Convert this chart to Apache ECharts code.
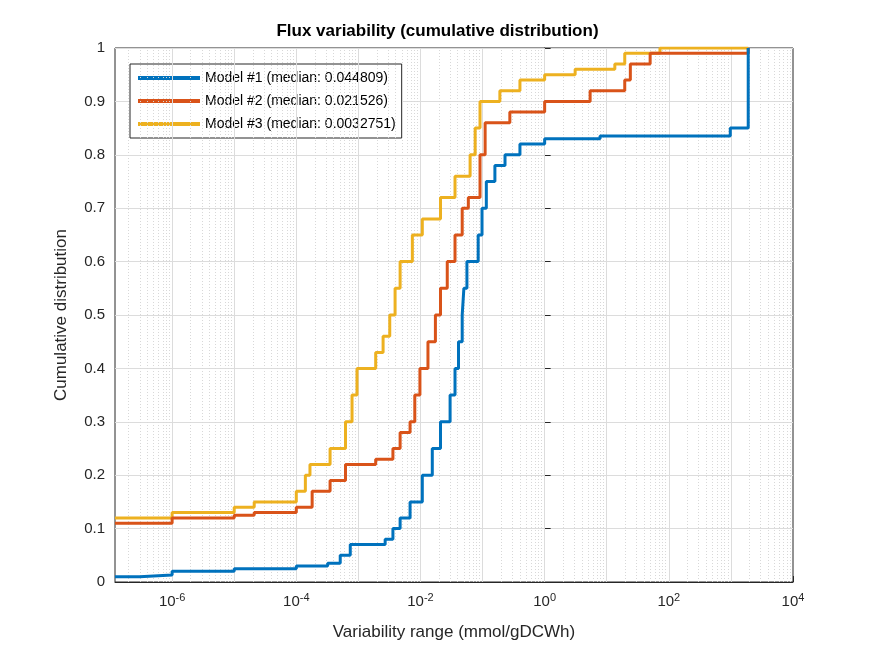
<!DOCTYPE html>
<html style="height: 100%">
<head>
    <meta charset="utf-8">
</head>
<body style="height: 100%; margin: 0; background: #fff">
<div id="container" style="width: 875px; height: 656px"></div>
<script src="https://cdn.jsdelivr.net/npm/echarts@6/dist/echarts.min.js"></script>
<script>
// cumulative distribution points: [variability range, fraction]
var model1 = [[1.2e-7, 0.01], [3.0e-7, 0.013], [1e-6, 0.02], [1e-5, 0.025], [1e-4, 0.03],
    [3.2e-4, 0.035], [5.1e-4, 0.05], [7.4e-4, 0.07], [2.7e-3, 0.08], [3.6e-3, 0.1],
    [4.7e-3, 0.12], [6.8e-3, 0.15], [0.0107, 0.2], [0.0155, 0.25], [0.021, 0.3],
    [0.030, 0.35], [0.036, 0.4], [0.041, 0.45], [0.047, 0.5], [0.050, 0.55],
    [0.056, 0.6], [0.085, 0.65], [0.098, 0.7], [0.115, 0.75], [0.158, 0.78],
    [0.23, 0.8], [0.40, 0.82], [1, 0.83], [7.8, 0.835], [457, 0.835], [977, 0.85],
    [1900, 0.85], [1900, 1.0]];
var model2 = [[1.2e-7, 0.11], [1e-6, 0.12], [1e-5, 0.125], [2.1e-5, 0.13], [1e-4, 0.14],
    [1.8e-4, 0.17], [3.5e-4, 0.19], [6.2e-4, 0.22], [1.9e-3, 0.23], [3.6e-3, 0.25],
    [4.7e-3, 0.28], [6.8e-3, 0.3], [8.1e-3, 0.35], [9.8e-3, 0.4], [0.0132, 0.45],
    [0.0174, 0.5], [0.021, 0.55], [0.027, 0.6], [0.036, 0.65], [0.047, 0.7],
    [0.059, 0.72], [0.091, 0.8], [0.11, 0.86], [0.275, 0.88], [1, 0.9], [5.4, 0.92],
    [19.5, 0.94], [24, 0.97], [50, 0.99], [1900, 1.0]];
var model3 = [[1.2e-7, 0.12], [1e-6, 0.13], [1e-5, 0.14], [2.1e-5, 0.15], [1e-4, 0.17],
    [1.4e-4, 0.2], [1.66e-4, 0.22], [3.5e-4, 0.25], [6.2e-4, 0.3], [7.9e-4, 0.35],
    [9.5e-4, 0.4], [1.9e-3, 0.43], [2.5e-3, 0.46], [3.2e-3, 0.5], [3.9e-3, 0.55],
    [4.7e-3, 0.6], [7.4e-3, 0.65], [0.0107, 0.68], [0.021, 0.72], [0.036, 0.76],
    [0.063, 0.8], [0.076, 0.85], [0.091, 0.9], [0.19, 0.92], [0.40, 0.94], [1, 0.95],
    [3.1, 0.96], [13.5, 0.97], [19.5, 0.99], [72, 1.0], [1900, 1.0]];
var seriesNames = ['Model #1 (median: 0.044809)', 'Model #2 (median: 0.021526)', 'Model #3 (median: 0.0032751)'];
var seriesColors = ['#0072BD', '#D95319', '#EDB120'];
var seriesData = [model1, model2, model3];
var xDecades = [-6, -5, -4, -3, -2, -1, 0, 1, 2, 3, 4];
var xMinExp = -6.92, xMaxExp = 4;

var chart = echarts.init(document.getElementById('container'));
var font = 'Helvetica, Arial, "Liberation Sans", sans-serif';

// x axis is drawn in decades (log10 of the value)
var series = seriesData.map(function (d, i) {
    return {
        name: seriesNames[i], type: 'line', step: 'end',
        data: d.map(function (p) { return [Math.log10(p[0]), p[1]]; }),
        symbol: 'none', lineStyle: { width: 3, color: seriesColors[i] },
        itemStyle: { color: seriesColors[i] }, z: 10 - i
    };
});

// log grid: solid lines per decade, dotted at 2..9
var gridLines = [];
for (var n = -7; n <= 3; n++) {
    for (var k = 1; k <= 9; k++) {
        var e = n + Math.log10(k);
        if (e <= xMinExp || e >= xMaxExp) continue;
        gridLines.push({ xAxis: e, lineStyle: k === 1 ? { color: '#dcdcdc', type: 'solid', width: 1 } : { color: '#d8d8d8', type: [1, 2], width: 1 } });
    }
}
series.push({
    type: 'line', data: [], silent: true, z: 1,
    markLine: { symbol: 'none', silent: true, label: { show: false }, data: gridLines, animation: false }
});

chart.setOption({
    animation: false,
    textStyle: { fontFamily: font },
    title: {
        text: 'Flux variability (cumulative distribution)', left: 'center', top: 18,
        textStyle: { fontSize: 17, fontWeight: 'bold', color: '#000' }
    },
    legend: {
        data: seriesNames,
        orient: 'vertical', left: 130, top: 64, itemWidth: 62, itemHeight: 4, itemGap: 9,
        padding: [7, 6, 7, 8], borderColor: '#262626', borderWidth: 1, backgroundColor: '#fff',
        icon: 'rect', textStyle: { fontSize: 14, color: '#000' }
    },
    grid: { left: 115, right: 82, top: 48, bottom: 74, show: true, borderColor: '#262626', borderWidth: 1 },
    xAxis: {
        type: 'value', min: xMinExp, max: xMaxExp,
        name: 'Variability range (mmol/gDCWh)', nameLocation: 'middle', nameGap: 42,
        nameTextStyle: { fontSize: 17, color: '#262626' },
        axisLine: { lineStyle: { color: '#262626' } },
        axisTick: { inside: true, length: 6, customValues: xDecades, lineStyle: { color: '#262626' } },
        splitLine: { show: false },
        axisLabel: {
            color: '#262626', fontSize: 15, margin: 10, customValues: xDecades.filter(function (v) { return v % 2 === 0; }),
            formatter: function (v) { return '{b|10}{s|' + Math.round(v) + '}'; },
            rich: { b: { fontSize: 15, color: '#262626' }, s: { fontSize: 11, color: '#262626', verticalAlign: 'top', padding: [0, 0, 8, 0] } }
        }
    },
    yAxis: {
        type: 'value', min: 0, max: 1, interval: 0.1,
        name: 'Cumulative distribution', nameLocation: 'middle', nameGap: 45,
        nameTextStyle: { fontSize: 17, color: '#262626' },
        axisLine: { show: true, lineStyle: { color: '#262626' } },
        axisTick: { inside: true, length: 6, lineStyle: { color: '#262626' } },
        splitLine: { show: true, lineStyle: { color: '#dcdcdc' } },
        axisLabel: { color: '#262626', fontSize: 15, margin: 10 }
    },
    series: series
});
</script>
</body>
</html>
